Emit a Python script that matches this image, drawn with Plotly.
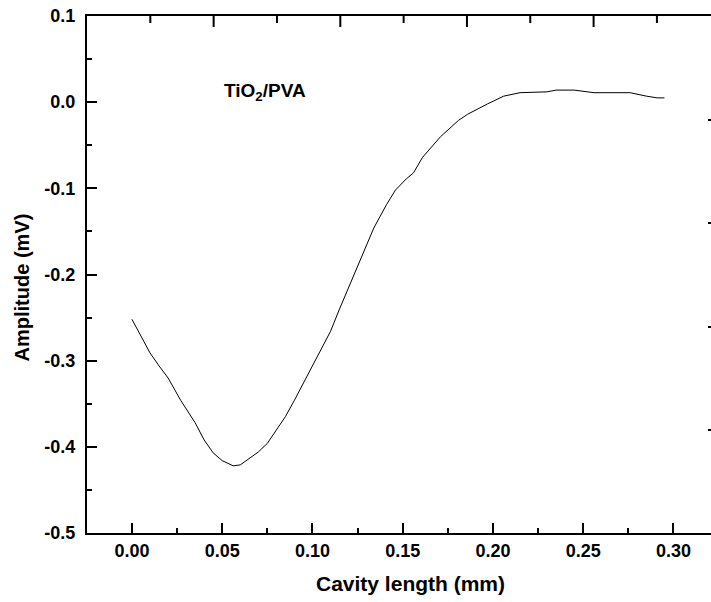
import plotly.graph_objects as go

# Data (cavity length in mm, amplitude in mV)
cavity_length = [0.000, 0.005, 0.010, 0.015, 0.020, 0.027, 0.035, 0.040, 0.045, 0.050,
                 0.056, 0.060, 0.065, 0.070, 0.075, 0.080, 0.085, 0.090, 0.097, 0.105,
                 0.110, 0.115, 0.121, 0.1275, 0.134, 0.141, 0.146, 0.152, 0.156, 0.161,
                 0.171, 0.181, 0.186, 0.197, 0.200, 0.206, 0.215, 0.230, 0.235, 0.245,
                 0.256, 0.276, 0.285, 0.291, 0.295]
amplitude = [-0.252, -0.272, -0.291, -0.306, -0.320, -0.346, -0.372, -0.392, -0.407, -0.416,
             -0.422, -0.421, -0.414, -0.406, -0.396, -0.380, -0.365, -0.346, -0.318, -0.286,
             -0.266, -0.240, -0.210, -0.177, -0.146, -0.119, -0.102, -0.089, -0.082, -0.064,
             -0.040, -0.021, -0.014, -0.002, 0.001, 0.007, 0.011, 0.012, 0.014, 0.014,
             0.011, 0.011, 0.007, 0.005, 0.005]

x_tick_vals = [0.00, 0.05, 0.10, 0.15, 0.20, 0.25, 0.30]
x_tick_text = ["0.00", "0.05", "0.10", "0.15", "0.20", "0.25", "0.30"]
y_tick_vals = [0.1, 0.0, -0.1, -0.2, -0.3, -0.4, -0.5]
y_tick_text = ["0.1", "0.0", "-0.1", "-0.2", "-0.3", "-0.4", "-0.5"]
x_range = [-0.0249, 0.3208]
y_range = [-0.5, 0.1]
# secondary scale of the top frame edge (spans 0 .. top_scale_max across the frame)
top_scale_max = 4.927
top_major_ticks = [1, 2, 3, 4]
top_minor_ticks = [0.5, 1.5, 2.5, 3.5, 4.5]
right_ticks = [0, 1, 2, 3]

x_title = "Cavity length (mm)"
y_title = "Amplitude (mV)"
label_text = "TiO<sub>2</sub>/PVA"

FONT = "Liberation Sans, Arial, sans-serif"

WIDTH, HEIGHT = 711, 602
MARGIN = dict(l=87, r=0, t=16, b=69)
PLOT_H = HEIGHT - MARGIN["t"] - MARGIN["b"]


def top_to_x(v):
    return x_range[0] + v * (x_range[1] - x_range[0]) / top_scale_max


fig = go.Figure()
fig.add_trace(go.Scatter(x=cavity_length, y=amplitude, mode="lines",
                         line=dict(color="black", width=1), showlegend=False,
                         hoverinfo="skip"))
fig.add_trace(go.Scatter(x=[0] * len(right_ticks), y=right_ticks, xaxis="x",
                         yaxis="y2", mode="markers", marker=dict(opacity=0),
                         showlegend=False, hoverinfo="skip"))

# tick marks of the top frame edge (secondary scale), pointing inward
for vals, length in ((top_major_ticks, 11), (top_minor_ticks, 7)):
    for v in vals:
        xv = top_to_x(v)
        fig.add_shape(type="line", xref="x", yref="y domain",
                      x0=xv, x1=xv, y0=1, y1=1 - length / PLOT_H,
                      line=dict(color="black", width=2), layer="above")

fig.update_layout(
    width=WIDTH, height=HEIGHT,
    margin=MARGIN,
    paper_bgcolor="white", plot_bgcolor="white",
    font=dict(family=FONT, color="black"),
    xaxis=dict(
        range=x_range, tickmode="array", tickvals=x_tick_vals,
        ticktext=x_tick_text, ticks="inside", ticklen=10, tickwidth=2,
        tickcolor="black", showline=True, linewidth=2, linecolor="black",
        mirror=True, showgrid=False, zeroline=False,
        tickfont=dict(family=FONT, size=18, weight="bold"),
        minor=dict(tickmode="array",
                   tickvals=[-0.025, 0.025, 0.075, 0.125, 0.175, 0.225, 0.275],
                   ticks="inside", ticklen=5, tickwidth=2, tickcolor="black"),
    ),
    yaxis=dict(
        range=y_range, tickmode="array", tickvals=y_tick_vals,
        ticktext=y_tick_text, ticks="inside", ticklen=10, tickwidth=2,
        tickcolor="black", showline=True, linewidth=2, linecolor="black",
        showgrid=False, zeroline=False, ticklabelstandoff=6,
        tickfont=dict(family=FONT, size=18, weight="bold"),
        minor=dict(tickmode="array",
                   tickvals=[0.05, -0.05, -0.15, -0.25, -0.35, -0.45],
                   ticks="inside", ticklen=5, tickwidth=2, tickcolor="black"),
    ),
    yaxis2=dict(
        overlaying="y", side="right", anchor="x", range=[-0.997, 4.007],
        tickmode="array", tickvals=right_ticks, ticks="inside", ticklen=3,
        tickwidth=2, tickcolor="black", showticklabels=False, showline=False,
        showgrid=False, zeroline=False,
    ),
    annotations=[
        dict(text=x_title, xref="paper", yref="paper", x=0.519, y=0,
             yshift=-50, xanchor="center", yanchor="middle", showarrow=False,
             font=dict(family=FONT, size=21, weight="bold")),
        dict(text=y_title, xref="paper", yref="paper", x=0, y=0.474,
             xshift=-65.5, xanchor="center", yanchor="middle", textangle=-90,
             showarrow=False, font=dict(family=FONT, size=20, weight="bold")),
        dict(text=label_text, xref="x", yref="y", x=0.0498, y=0.0,
             xanchor="left", yanchor="middle", yshift=10, showarrow=False,
             font=dict(family=FONT, size=19, weight="bold")),
    ],
)

fig.write_html("out.html")
